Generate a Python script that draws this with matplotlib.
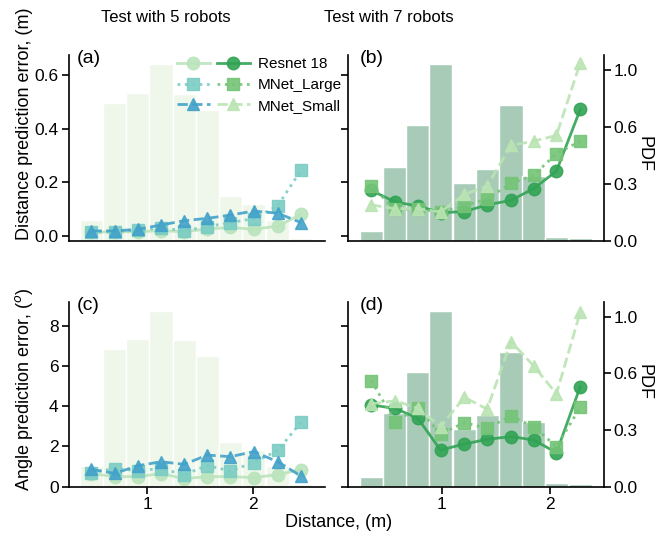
import numpy as np
import matplotlib
matplotlib.use('Agg')
import matplotlib.pyplot as plt
from matplotlib.legend_handler import HandlerTuple
from matplotlib.ticker import FormatStrFormatter

plt.rcParams['font.family'] = ['Liberation Sans', 'DejaVu Sans']

# histogram bin centres (m)
dist_5 = [0.47, 0.69, 0.91, 1.13, 1.35, 1.57, 1.79, 2.01, 2.24, 2.46]
dist_7 = [0.35, 0.57, 0.78, 0.99, 1.21, 1.42, 1.64, 1.85, 2.06, 2.28]
bin_w_5 = 0.22
bin_w_7 = 0.214

# PDF of test distances
pdf_5 = [0.115, 0.776, 0.831, 0.992, 0.826, 0.736, 0.251, 0.205, 0.115, 0.017]
pdf_7 = [0.055, 0.413, 0.649, 0.993, 0.323, 0.405, 0.762, 0.365, 0.022, 0.013]

# distance prediction error (m)
res_d5 = [0.015, 0.015, 0.016, 0.020, 0.016, 0.026, 0.032, 0.025, 0.037, 0.081]
large_d5 = [0.014, 0.016, 0.022, 0.030, 0.020, 0.035, 0.050, 0.065, 0.113, 0.245]
small_d5 = [0.019, 0.019, 0.025, 0.041, 0.057, 0.066, 0.078, 0.093, 0.085, 0.050]
res_d7 = [0.170, 0.127, 0.112, 0.087, 0.091, 0.116, 0.133, 0.177, 0.242, 0.472]
large_d7 = [0.186, 0.100, 0.100, 0.090, 0.112, 0.139, 0.196, 0.227, 0.307, 0.354]
small_d7 = [0.116, 0.102, 0.102, 0.090, 0.155, 0.186, 0.338, 0.354, 0.375, 0.646]

# angle prediction error (deg)
res_a5 = [0.65, 0.50, 0.50, 0.65, 0.40, 0.50, 0.50, 0.45, 0.60, 0.85]
large_a5 = [0.70, 0.90, 0.80, 0.90, 0.60, 1.05, 0.78, 1.20, 1.80, 3.20]
small_a5 = [0.86, 0.66, 1.04, 1.24, 1.11, 1.57, 1.49, 1.74, 1.24, 0.53]
res_a7 = [4.06, 3.89, 3.40, 1.82, 2.12, 2.35, 2.49, 2.32, 1.69, 4.97]
large_a7 = [5.27, 3.23, 3.89, 2.62, 3.18, 2.90, 3.51, 2.98, 1.99, 3.94]
small_a7 = [4.11, 4.27, 3.89, 2.98, 4.44, 3.85, 7.21, 6.00, 4.61, 8.67]

labels = ['Resnet 18', 'MNet_Large', 'MNet_Small']
cols_5 = ['#bae4bc', '#7bccc4', '#43a2ca']
cols_7 = ['#31a354', '#74c476', '#bae4b3']
styles = [('-', 'o'), (':', 's'), ('--', '^')]

TICK = 12.5

fig = plt.figure(figsize=(6.67, 5.33), dpi=100)
axa = fig.add_axes([0.1034, 0.5484, 0.3838, 0.3484])
axb = fig.add_axes([0.5217, 0.5484, 0.3838, 0.3484])
axc = fig.add_axes([0.1034, 0.0869, 0.3838, 0.3471])
axd = fig.add_axes([0.5217, 0.0869, 0.3838, 0.3471])


def panel(ax, x, w, pdf, series, cols, bar_col, xlim, ylim, yticks, tag, right):
    tw = ax.twinx()
    tw.bar(x, pdf, width=w, color=bar_col, edgecolor='white', linewidth=1)
    tw.set_ylim(0, 1.044)
    ax.set_zorder(tw.get_zorder() + 1)
    ax.patch.set_visible(False)
    lines = []
    for vals, c, (ls, mk) in zip(series, cols, styles):
        ln, = ax.plot(x, vals, linestyle=ls, marker=mk, color=c, lw=2,
                      markersize=9, alpha=0.9)
        lines.append(ln)
    ax.set_xlim(*xlim)
    ax.set_ylim(*ylim)
    ax.set_yticks(yticks)
    ax.set_xticks([1, 2])
    for s in ['top', 'right']:
        ax.spines[s].set_visible(False)
    for s in ['top', 'left', 'bottom']:
        tw.spines[s].set_visible(False)
    for s in ax.spines.values():
        s.set_linewidth(1.2)
    tw.spines['right'].set_linewidth(1.2)
    ax.tick_params(labelsize=TICK, width=1.2, length=5, pad=2.5)
    if right:
        tw.set_yticks([0, 0.32, 0.64, 0.96])
        tw.yaxis.set_major_formatter(FormatStrFormatter('%.1f'))
        tw.tick_params(labelsize=TICK, width=1.2, length=5, pad=2)
        ax.tick_params(labelleft=False)
    else:
        tw.spines['right'].set_visible(False)
        tw.set_yticks([])
    ax.text(0.03 if not right else 0.045, 1.025, tag, transform=ax.transAxes,
            fontsize=14, va='top', ha='left')
    return lines


la = panel(axa, dist_5, bin_w_5, pdf_5, [res_d5, large_d5, small_d5], cols_5,
           '#eff7ea', (0.256, 2.688), (-0.0175, 0.675), [0, 0.2, 0.4, 0.6], '(a)', False)
lb = panel(axb, dist_7, bin_w_7, pdf_7, [res_d7, large_d7, small_d7], cols_7,
           '#a8cbb8', (0.135, 2.499), (-0.0175, 0.675), [0, 0.2, 0.4, 0.6], '(b)', True)
panel(axc, dist_5, bin_w_5, pdf_5, [res_a5, large_a5, small_a5], cols_5,
      '#eff7ea', (0.256, 2.688), (0, 9.19), [0, 2, 4, 6, 8], '(c)', False)
panel(axd, dist_7, bin_w_7, pdf_7, [res_a7, large_a7, small_a7], cols_7,
      '#a8cbb8', (0.135, 2.499), (0, 9.19), [0, 2, 4, 6, 8], '(d)', True)

for ax in [axa, axb]:
    ax.tick_params(labelbottom=False)
    ax.set_xticks([])
axa.yaxis.set_major_formatter(FormatStrFormatter('%.1f'))
axb.yaxis.set_major_formatter(FormatStrFormatter('%.1f'))

fig.legend([(la[i], lb[i]) for i in range(3)], labels,
           handler_map={tuple: HandlerTuple(ndivide=None, pad=0.45)},
           loc='upper left', bbox_to_anchor=(0.265, 0.893), frameon=False,
           fontsize=11, handlelength=4.8, handletextpad=0.5,
           labelspacing=0.45, borderpad=0, borderaxespad=0)

fig.text(0.248, 0.968, 'Test with 5 robots', ha='center', va='center', fontsize=12)
fig.text(0.5825, 0.968, 'Test with 7 robots', ha='center', va='center', fontsize=12)
fig.text(0.036, 0.767, 'Distance prediction error, (m)', rotation=90,
         ha='center', va='center', fontsize=13)
fig.text(0.036, 0.269, r'Angle prediction error, ($^o$)', rotation=90,
         ha='center', va='center', fontsize=13)
fig.text(0.5075, 0.02, 'Distance, (m)', ha='center', va='center', fontsize=13)
fig.text(0.9655, 0.712, 'PDF', rotation=270, ha='center', va='center', fontsize=13)
fig.text(0.9655, 0.284, 'PDF', rotation=270, ha='center', va='center', fontsize=13)

fig.savefig('out.png', dpi=100)
